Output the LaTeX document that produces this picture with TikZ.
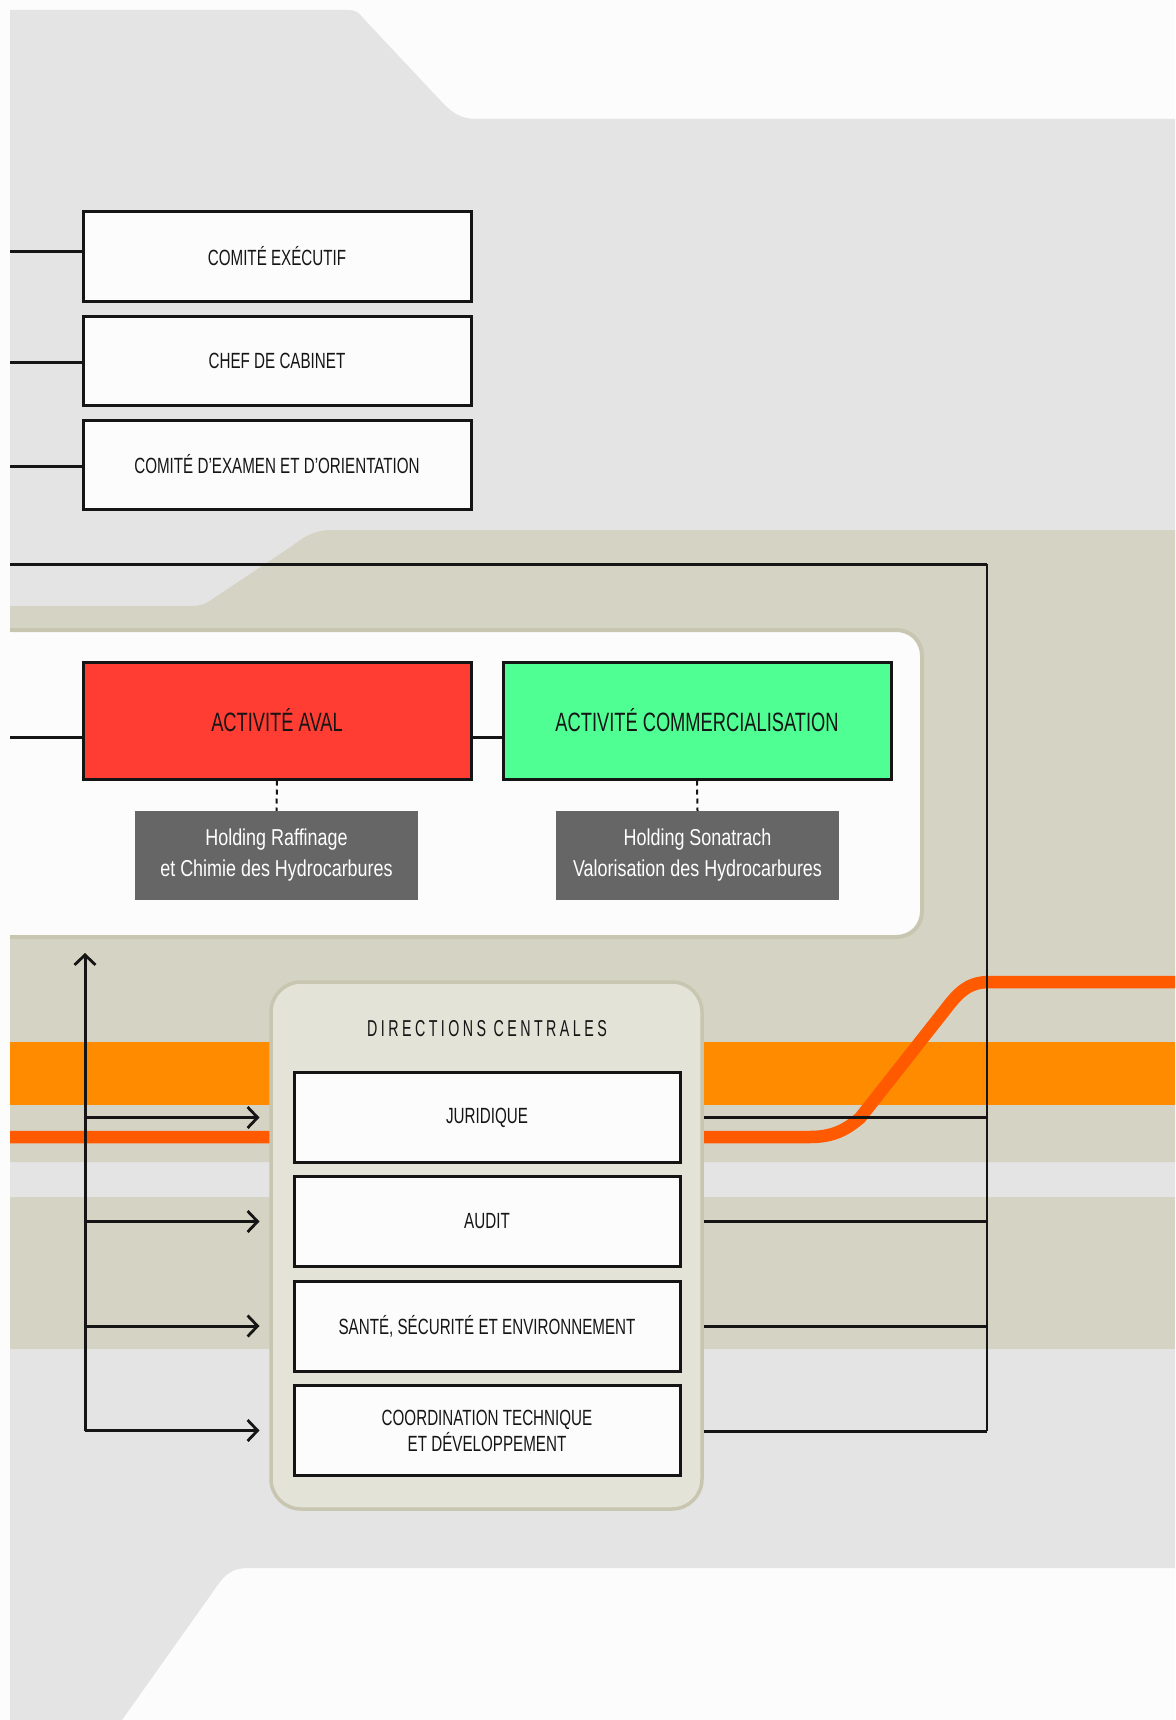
\documentclass[tikz,border=0pt]{standalone}
\usepackage{fontspec}
\setmainfont{Liberation Sans}[FakeStretch=0.69]
\newfontfamily\holdfont{Liberation Sans}[FakeStretch=0.78]
\newfontfamily\dcfont{Liberation Sans}[FakeStretch=0.62,LetterSpace=15]
\usetikzlibrary{arrows.meta}
\definecolor{bgwhite}{HTML}{FCFCFC}
\definecolor{lgray}{HTML}{E4E4E4}
\definecolor{beige}{HTML}{D5D3C3}
\definecolor{beigeborder}{HTML}{C8C6B0}
\definecolor{dcfill}{HTML}{E3E3D8}
\definecolor{orangeband}{HTML}{FF8C00}
\definecolor{orangeline}{HTML}{FF5A00}
\definecolor{avalred}{HTML}{FF3D33}
\definecolor{commgreen}{HTML}{50FF94}
\definecolor{holdgray}{HTML}{666666}
\definecolor{ink}{HTML}{151515}
\begin{document}
\begin{tikzpicture}[x=1pt,y=-1pt,
  orgbox/.style={draw=ink, line width=3pt, fill=bgwhite, minimum width=388pt, minimum height=89pt, inner sep=0pt, font=\fontsize{22}{26}\selectfont, text=ink, align=center},
  actbox/.style={orgbox, minimum height=117pt, font=\fontsize{26.5}{30}\selectfont},
  dirbox/.style={orgbox, minimum width=386pt, minimum height=90pt},
  holdbox/.style={fill=holdgray, minimum width=283pt, minimum height=89pt, inner sep=0pt, text=white, align=center, font=\holdfont\fontsize{23}{31}\selectfont},
  link/.style={draw=ink, line width=3pt},
  thinlink/.style={draw=ink, line width=2pt},
  dots/.style={draw=ink, line width=2pt, dash pattern=on 5pt off 4pt},
  arr/.style={link, -{Straight Barb[length=10pt,width=21pt,line width=2.8pt]}}
]
\useasboundingbox (0,0) rectangle (1175,1720);
\fill[bgwhite] (0,0) rectangle (1175,1720);
% light gray background shape
\fill[lgray] (10,10) -- (348,10) .. controls (355,10) and (359,12) .. (363,18) -- (440,100)
  .. controls (452,113) and (460,119) .. (478,119) -- (1175,119) -- (1175,1568) -- (248,1568)
  .. controls (233,1568) and (225,1574) .. (217,1586) -- (122,1720) -- (10,1720) -- cycle;
% beige region
\fill[beige] (10,606) -- (191,606) .. controls (200,606) and (206,604) .. (214,598) -- (292,546)
  .. controls (305,536) and (315,530) .. (332,530) -- (1175,530) -- (1175,1162) -- (10,1162) -- cycle;
\fill[beige] (10,1197) rectangle (1175,1349);
\fill[orangeband] (10,1042) rectangle (1175,1105);
% thin orange line
\draw[orangeline, line width=12.5pt] (10,1137) -- (810,1137) .. controls (835,1137) and (848,1128) .. (860,1118)
  -- (945,1010) .. controls (960,990) and (970,982) .. (990,982) -- (1175,982);
% activities panel
\fill[bgwhite] (10,630) -- (896,630) .. controls (911,630) and (922,641) .. (922,656) -- (922,911)
  .. controls (922,926) and (911,937) .. (896,937) -- (10,937) -- cycle;
\draw[beigeborder, line width=4pt] (10,630) -- (896,630) .. controls (911,630) and (922,641) .. (922,656) -- (922,911)
  .. controls (922,926) and (911,937) .. (896,937) -- (10,937);
% directions centrales container
\node[draw=beigeborder, line width=3.5pt, fill=dcfill, rounded corners=30pt, minimum width=431pt, minimum height=527pt, inner sep=0pt] (dc) at (486.5,1245.5) {};
\node[font=\dcfont\fontsize{23}{26}\selectfont, text=ink] (dctitle) at (487,1029) {DIRECTIONS CENTRALES};

% top boxes
\node[orgbox] (comex) at (277,256.5) {COMITÉ EXÉCUTIF};
\node[orgbox] (chef) at (277,360.5) {CHEF DE CABINET};
\node[orgbox] (cexo) at (277,464.5) {COMITÉ D'EXAMEN ET D'ORIENTATION};
\coordinate (l1) at (10,252);
\coordinate (l2) at (10,362);
\coordinate (l3) at (10,466);
\draw[link] (l1) -- (comex.west |- l1);
\draw[link] (l2) -- (chef.west |- l2);
\draw[link] (l3) -- (cexo.west |- l3);

% activities
\node[actbox, fill=avalred] (aval) at (277,720.5) {ACTIVITÉ AVAL};
\node[actbox, fill=commgreen] (comm) at (697,720.5) {ACTIVITÉ COMMERCIALISATION};
\coordinate (la) at (10,737);
\draw[link] (la) -- (aval.west |- la);
\draw[link] (aval.east |- la) -- (comm.west |- la);
\node[holdbox] (h1) at (276.5,855.5) {Holding Raffinage\\et Chimie des Hydrocarbures};
\node[holdbox] (h2) at (697.5,855.5) {Holding Sonatrach\\Valorisation des Hydrocarbures};
\draw[dots] (aval.south) -- (h1.north);
\draw[dots] (comm.south) -- (h2.north);

% directions boxes
\node[dirbox] (jur) at (487,1117.5) {JURIDIQUE};
\node[dirbox] (aud) at (487,1221.5) {AUDIT};
\node[dirbox] (sse) at (487,1326) {SANTÉ, SÉCURITÉ ET ENVIRONNEMENT};
\node[dirbox] (ctd) at (487,1430.5) {COORDINATION TECHNIQUE\\ET DÉVELOPPEMENT};

% big frame line
\coordinate (f0) at (10,564);
\coordinate (f1) at (987,564);
\coordinate (f2) at (987,1431);
\draw[link] (f0) -- (f1);
\draw[thinlink] (f1) -- (f2);
\draw[link] (f2) -- (dc.east |- f2);
\draw[link] (dc.east |- jur.east) -- (f1 |- jur.east);
\draw[link] (dc.east |- aud.east) -- (f1 |- aud.east);
\draw[link] (dc.east |- sse.east) -- (f1 |- sse.east);

% left arrows
\coordinate (vt) at (85,953);
\coordinate (vb) at (85,1431);
\draw[arr] (vb) -- (vt);
\draw[arr] (vt |- jur.west) -- ([xshift=-33pt]jur.west);
\draw[arr] (vt |- aud.west) -- ([xshift=-33pt]aud.west);
\draw[arr] (vt |- sse.west) -- ([xshift=-33pt]sse.west);
\draw[arr] (vt |- ctd.west) -- ([xshift=-33pt]ctd.west);
\end{tikzpicture}
\end{document}
